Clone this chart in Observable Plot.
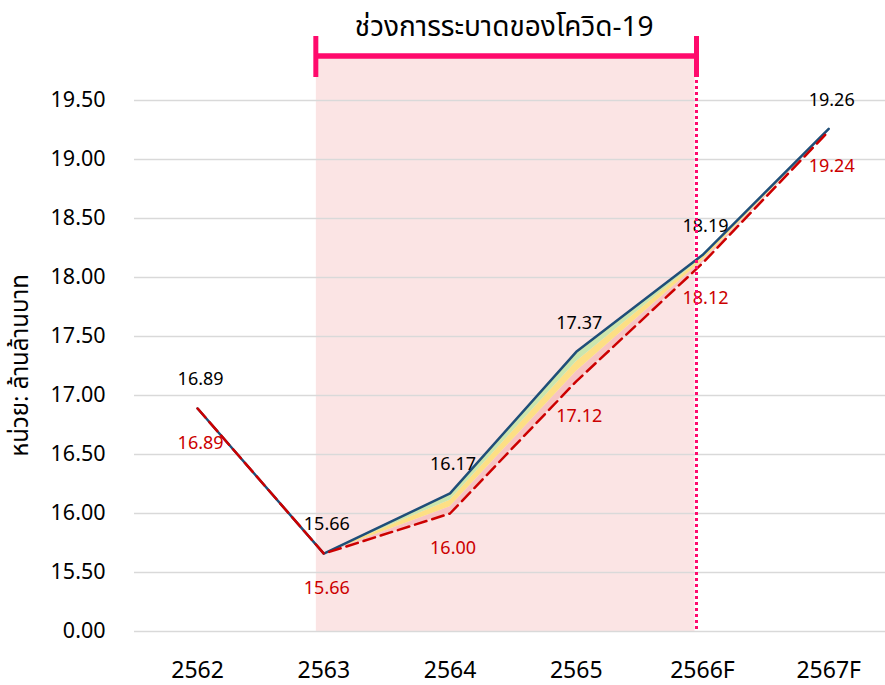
<!DOCTYPE html>
<html>
<head>
<meta charset="utf-8">
<script src="https://cdn.jsdelivr.net/npm/d3@7"></script>
<script src="https://cdn.jsdelivr.net/npm/@observablehq/plot@0.6"></script>
<style>
  html, body { margin: 0; padding: 0; background: #fff; }
  #chart svg { display: block; }
</style>
</head>
<body>
<div id="chart"></div>
<script>
const years = ["2562", "2563", "2564", "2565", "2566F", "2567F"];
const actual = [16.89, 15.66, 16.17, 17.37, 18.19, 19.26];
const baseline = [16.89, 15.66, 16.00, 17.12, 18.12, 19.24];
const yTicks = [15, 15.5, 16, 16.5, 17, 17.5, 18, 18.5, 19, 19.5];
const covidPeriod = ["2563", "2566F"];
const covidTitle = "ช่วงการระบาดของโควิด-19";
const yLabel = "หน่วย: ล้านล้านบาท";

const rows = years.map((year, i) => ({i, year, actual: actual[i], baseline: baseline[i]}));
const iStart = years.indexOf(covidPeriod[0]);
const iEnd = years.indexOf(covidPeriod[1]);

const MAGENTA = "#ff0a6c";
const FONT = "'Noto Sans', 'Noto Sans Thai', sans-serif";

function shading(index, {x, y}) {
  const g = d3.create("svg:g");
  const x0 = x(iStart) - 7.5, x1 = x(iEnd) - 7.5;
  const top = y(19.5) - 42, bottom = y(15) + 1;
  g.append("rect").attr("x", x0).attr("width", x1 - x0)
    .attr("y", top).attr("height", bottom - top).attr("fill", "#fbe4e4");
  return g.node();
}

function bracket(index, {x, y}) {
  const g = d3.create("svg:g");
  const x0 = x(iStart) - 7.5, x1 = x(iEnd) - 5.5;
  const yb = y(19.5) - 44;
  g.append("line").attr("x1", x1).attr("x2", x1)
    .attr("y1", yb).attr("y2", y(15) + 1)
    .attr("stroke", MAGENTA).attr("stroke-width", 3).attr("stroke-dasharray", "3,3");
  g.append("line").attr("x1", x0).attr("x2", x1).attr("y1", yb).attr("y2", yb)
    .attr("stroke", MAGENTA).attr("stroke-width", 5.5);
  for (const xx of [x0, x1]) {
    g.append("line").attr("x1", xx).attr("x2", xx).attr("y1", yb - 20).attr("y2", yb + 21)
      .attr("stroke", MAGENTA).attr("stroke-width", 5);
  }
  g.append("text").attr("x", (x0 + x1) / 2 - 2).attr("y", yb - 20)
    .attr("text-anchor", "middle").attr("font-size", 28).attr("font-family", FONT)
    .attr("fill", "#000").text(covidTitle);
  // y-axis title
  const yc = (y(15) + y(19.5)) / 2;
  g.append("text").attr("transform", `translate(${x(-0.5) - 106},${yc}) rotate(-90)`)
    .attr("text-anchor", "middle").attr("font-size", 24).attr("font-family", FONT)
    .attr("fill", "#000").text(yLabel);
  return g.node();
}

const chart = Plot.plot({
  width: 885,
  height: 685,
  marginLeft: 134,
  marginRight: 0,
  marginTop: 100,
  marginBottom: 54,
  style: {fontFamily: FONT, color: "#000", background: "#fff"},
  x: {domain: [-0.5, 5.45], axis: null},
  y: {domain: [15, 19.5], axis: null},
  marks: [
    shading,
    Plot.ruleY(yTicks, {stroke: "#d9d9d9", strokeWidth: 1.5}),
    Plot.axisY({ticks: yTicks, tickFormat: d => d === 15 ? "0.00" : d.toFixed(2), tickSize: 0, tickPadding: 29,
      fontSize: 21.5, label: null}),
    Plot.axisX({ticks: d3.range(years.length), tickFormat: i => years[i], tickSize: 0, tickPadding: 30, fontSize: 23, label: null}),
    Plot.areaY(rows, {x: "i", y1: "baseline", y2: d => d.baseline + (d.actual - d.baseline) / 3, fill: "#f6c4c4"}),
    Plot.areaY(rows, {x: "i", y1: d => d.baseline + (d.actual - d.baseline) / 3, y2: d => d.baseline + 2 * (d.actual - d.baseline) / 3, fill: "#fddf84"}),
    Plot.areaY(rows, {x: "i", y1: d => d.baseline + 2 * (d.actual - d.baseline) / 3, y2: "actual", fill: "#cbe6ad"}),
    Plot.lineY(rows, {x: "i", y: "actual", stroke: "#1f4e79", strokeWidth: 2.5}),
    Plot.lineY(rows, {x: "i", y: "baseline", stroke: "#cc0000", strokeWidth: 2.5, strokeDasharray: "12,6"}),
    Plot.text(rows, {x: "i", y: "actual", text: d => d.actual.toFixed(2), dy: -29, dx: 3, fontSize: 18, fill: "#000"}),
    Plot.text(rows, {x: "i", y: "baseline", text: d => d.baseline.toFixed(2), dy: 35, dx: 3, fontSize: 18, fill: "#cc0000"}),
    bracket
  ]
});
document.getElementById("chart").appendChild(chart);
</script>
</body>
</html>
